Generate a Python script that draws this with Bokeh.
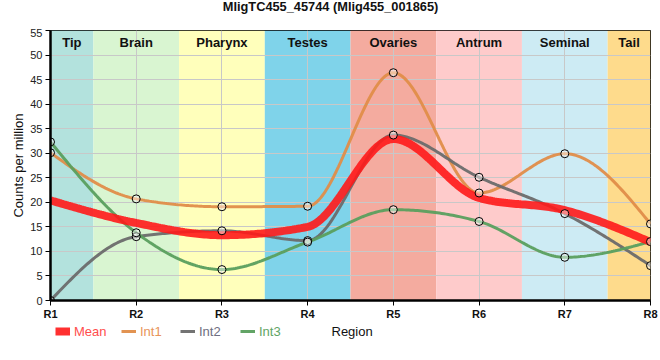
import numpy as np
from bokeh.plotting import figure
from bokeh.layouts import column
from bokeh.models import Range1d, FixedTicker, Legend, LegendItem, ColumnDataSource, Label
from bokeh.core.properties import value
from bokeh.embed import file_html
from bokeh.resources import INLINE

# ---- data ----
title_text = "MligTC455_45744 (Mlig455_001865)"
positions = [1, 2, 3, 4, 5, 6, 7, 8]
tick_labels = ["R1", "R2", "R3", "R4", "R5", "R6", "R7", "R8"]
regions = ["Tip", "Brain", "Pharynx", "Testes", "Ovaries", "Antrum", "Seminal", "Tail"]
region_left = [1.0, 1.5, 2.5, 3.5, 4.5, 5.5, 6.5, 7.5]
region_right = [1.5, 2.5, 3.5, 4.5, 5.5, 6.5, 7.5, 8.0]
region_colors = ["#b3e2dd", "#d9f5d1", "#ffffbb", "#7fd3ea", "#f4ab9f", "#fecbcb", "#cdebf4", "#fedb8c"]
mean = [20.4, 15.8, 13.3, 15.0, 32.9, 20.9, 18.4, 11.9]
int1 = [30.1, 20.7, 19.1, 19.2, 46.4, 21.9, 29.9, 15.6]
int2 = [0.0, 13.0, 14.2, 12.2, 33.7, 25.1, 17.7, 7.1]
int3 = [32.3, 13.8, 6.3, 11.9, 18.5, 16.1, 8.8, 12.0]
y_ticks = list(range(0, 56, 5))

FONT = "Liberation Sans"


def monotone_x(xs, ys, n=40):
    """d3-style monotone cubic curve sampled for drawing."""
    xs = np.asarray(xs, float)
    ys = np.asarray(ys, float)
    m = len(xs)
    h = np.diff(xs)
    s = np.diff(ys) / h
    t = np.zeros(m)
    for i in range(1, m - 1):
        h0, h1 = h[i - 1], h[i]
        s0, s1 = s[i - 1], s[i]
        pp = (s0 * h1 + s1 * h0) / (h0 + h1)
        t[i] = (np.sign(s0) + np.sign(s1)) * min(abs(s0), abs(s1), 0.5 * abs(pp))
    t[0] = (3 * s[0] - t[1]) / 2
    t[-1] = (3 * s[-1] - t[-2]) / 2
    ox, oy = [], []
    u = np.linspace(0, 1, n)
    for i in range(m - 1):
        x0, x1, y0, y1, dx = xs[i], xs[i + 1], ys[i], ys[i + 1], h[i]
        p = [(x0, y0), (x0 + dx / 3, y0 + dx * t[i] / 3), (x1 - dx / 3, y1 - dx * t[i + 1] / 3), (x1, y1)]
        b = [(1 - u) ** 3, 3 * (1 - u) ** 2 * u, 3 * (1 - u) * u ** 2, u ** 3]
        bx = sum(bi * pi[0] for bi, pi in zip(b, p))
        by = sum(bi * pi[1] for bi, pi in zip(b, p))
        if i > 0:
            bx, by = bx[1:], by[1:]
        ox.extend(bx)
        oy.extend(by)
    return ox, oy


def strip(height):
    f = figure(width=660, height=height, output_backend="svg", toolbar_location=None,
               x_range=Range1d(0, 1), y_range=Range1d(0, 1),
               x_axis_location=None, y_axis_location=None,
               min_border_left=0, min_border_right=0, min_border_top=0, min_border_bottom=0)
    f.grid.visible = False
    f.outline_line_color = None
    return f


# ---- title strip (its frame is aligned with the main frame, which starts 50px in) ----
tf = strip(28)
tf.add_layout(Label(x=280, y=22, x_units="screen", y_units="screen", text=title_text,
                    text_font=FONT, text_font_size="12.8px", text_font_style="bold",
                    text_color="#111111", text_align="center", text_baseline="alphabetic"))

# ---- main plot ----
p = figure(width=660, height=294, output_backend="svg", toolbar_location=None,
           x_range=Range1d(1, 8), y_range=Range1d(0, 55),
           min_border_left=50, min_border_right=10, min_border_top=2, min_border_bottom=22)

band_src = ColumnDataSource(dict(left=region_left, right=region_right, color=region_colors,
                                 bottom=[0] * 8, top=[55] * 8))
p.quad(left="left", right="right", bottom="bottom", top="top", fill_color="color",
       line_color=None, source=band_src, level="image")

label_x = [(a + b) / 2 for a, b in zip(region_left, region_right)]
p.text(x=label_x, y=[55] * 8, text=regions, text_align="center", text_baseline="top",
       y_offset=4, text_font=value(FONT), text_font_size="13px", text_font_style="bold",
       text_color="#111111")

series = [("Int1", int1, "#e08d49"), ("Int2", int2, "#6b6b6b"), ("Int3", int3, "#5a9f5e")]
for name, ys, col in series:
    cx, cy = monotone_x(positions, ys)
    p.line(cx, cy, line_color=col, line_width=3, line_alpha=0.95)

mx, my = monotone_x(positions, mean)
p.line(mx, my, line_color="#ff1a1a", line_width=8, line_alpha=0.9)

for name, ys, col in series:
    p.scatter(positions, ys, size=8, marker="circle", fill_color="white", fill_alpha=0.45,
              line_color="black", line_width=1)

p.xaxis.ticker = FixedTicker(ticks=positions)
p.xaxis.major_label_overrides = {pos: lab for pos, lab in zip(positions, tick_labels)}
p.yaxis.ticker = FixedTicker(ticks=y_ticks)
p.xaxis.minor_tick_line_color = None
p.yaxis.minor_tick_line_color = None
for ax in (p.xaxis, p.yaxis):
    ax.axis_line_width = 2.5
    ax.axis_line_color = "black"
    ax.major_tick_line_color = "black"
    ax.major_tick_line_width = 1
    ax.major_tick_out = 5
    ax.major_tick_in = 0
    ax.major_label_text_font = FONT
    ax.axis_label_text_font = FONT
    ax.axis_label_text_font_style = "normal"
    ax.axis_label_text_font_size = "13px"
    ax.axis_label_text_color = "#111111"
p.xaxis.major_label_text_font_size = "11px"
p.xaxis.major_label_text_font_style = "bold"
p.xaxis.major_label_text_color = "#111111"
p.xaxis.major_label_standoff = 2
p.yaxis.major_label_text_font_size = "11px"
p.yaxis.major_label_text_color = "#222222"
p.yaxis.major_label_standoff = 3
p.yaxis.axis_label = "Counts per million"
p.yaxis.axis_label_standoff = 1

p.xgrid.grid_line_color = "#c8c8c8"
p.ygrid.grid_line_color = "#c8c8c8"
p.outline_line_color = "black"
p.outline_line_width = 1
p.background_fill_color = "white"

# ---- legend strip (with the x-axis title "Region" in the same row, as in the reference) ----
lf = strip(22)
legend_specs = [("Mean", "#ff1a1a", 8, 0.9, "#ff4d4d", 5),
                ("Int1", "#e08d49", 3, 0.95, "#e8945a", 71),
                ("Int2", "#6b6b6b", 3, 0.95, "#6e6e80", 130),
                ("Int3", "#5a9f5e", 3, 0.95, "#5fa565", 190)]
for name, lcol, lw, la, tcol, lx in legend_specs:
    # swatch renderer; its single segment lies outside the visible range
    r = lf.line([-5, -4], [-5, -5], line_color=lcol, line_width=lw, line_alpha=la)
    lg = Legend(items=[LegendItem(label=name, renderers=[r])], location=(lx, 5),
                orientation="horizontal", label_text_color=tcol, label_text_font=FONT,
                label_text_font_size="13px", glyph_width=15, glyph_height=10, label_standoff=4,
                padding=0, margin=0, spacing=0, label_height=16, border_line_alpha=0,
                background_fill_alpha=0)
    lf.add_layout(lg, "center")

lf.add_layout(Label(x=281, y=13, x_units="screen", y_units="screen", text="Region",
                    text_font=FONT, text_font_size="13px", text_color="#111111",
                    text_baseline="middle", text_align="left"))

layout = column(tf, p, lf, spacing=0)
open("out.html", "w").write(file_html(layout, INLINE))
